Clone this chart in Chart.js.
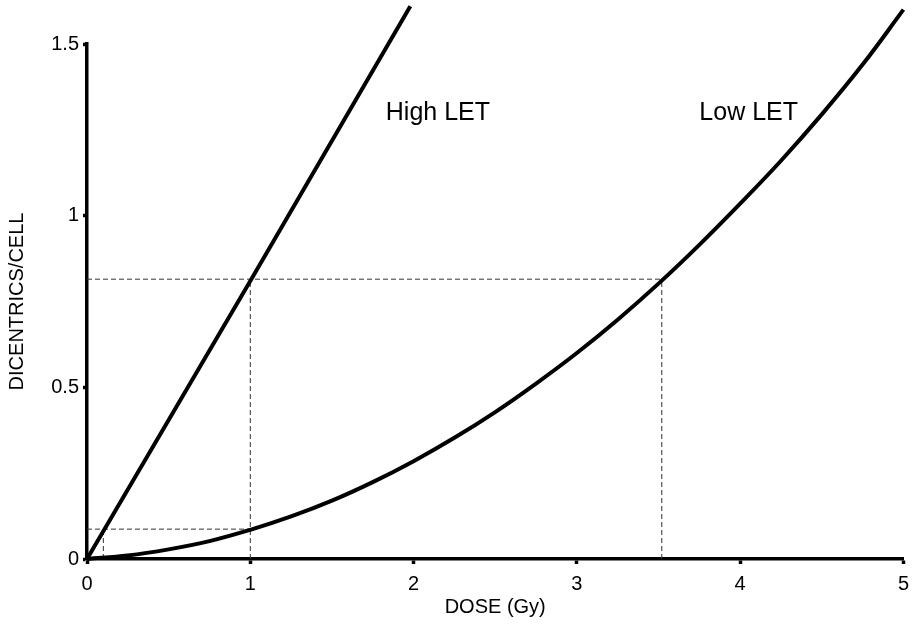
<!DOCTYPE html>
<html>
<head>
<meta charset="utf-8">
<script src="https://cdn.jsdelivr.net/npm/chart.js@4/dist/chart.umd.min.js"></script>
<style>
  html, body { margin: 0; padding: 0; background: #fff; }
  #wrap { width: 917px; height: 643px; }
</style>
</head>
<body>
<div id="wrap"><canvas id="chart"></canvas></div>
<script>
// values
const highDose = [0, 1, 1.98];
const highDic = [0, 0.81, 1.61];
const lowDose = [0, 0.25, 0.5, 0.75, 1, 1.25, 1.5, 1.75, 2, 2.25, 2.5, 2.75, 3, 3.25, 3.5, 3.75, 4, 4.25, 4.5, 4.75, 5];
const lowDic = [0, 0.01, 0.028, 0.052, 0.085, 0.124, 0.17, 0.224, 0.285, 0.353, 0.428, 0.511, 0.6, 0.697, 0.802, 0.915, 1.035, 1.16, 1.295, 1.44, 1.6];
const xTicks = [0, 1, 2, 3, 4, 5];
const yTicks = [0, 0.5, 1, 1.5];
// dashed guide lines: [x1, y1, x2, y2]
const guides = [
    [0, 0.815, 3.52, 0.815],
    [1, 0, 1, 0.815],
    [3.52, 0, 3.52, 0.815],
    [0, 0.087, 1, 0.087],
    [0.1, 0, 0.1, 0.087]
];
const notes = [
    { text: 'High LET', x: 1.83, y: 1.3 },
    { text: 'Low LET', x: 3.75, y: 1.3 }
];

const pts = (xs, ys) => xs.map((x, i) => ({ x: x, y: ys[i] }));

const guideSets = guides.map(g => ({
    data: [{ x: g[0], y: g[1] }, { x: g[2], y: g[3] }],
    borderColor: '#333',
    borderWidth: 1,
    borderDash: [5, 3],
    pointRadius: 0,
    showLine: true,
    clip: false
}));

const notePlugin = {
    id: 'notes',
    afterDatasetsDraw(chart) {
        const ctx = chart.ctx;
        const xs = chart.scales.x, ys = chart.scales.y;
        ctx.save();
        ctx.fillStyle = '#000';
        ctx.font = '25px "Liberation Sans", Arial, sans-serif';
        ctx.textBaseline = 'middle';
        notes.forEach(n => ctx.fillText(n.text, xs.getPixelForValue(n.x), ys.getPixelForValue(n.y)));
        ctx.restore();
    }
};

const tickFont = { family: '"Liberation Sans", Arial, sans-serif', size: 20 };
const titleFont = { family: '"Liberation Sans", Arial, sans-serif', size: 20 };

new Chart(document.getElementById('chart'), {
    type: 'scatter',
    data: {
        datasets: [
            { data: pts(highDose, highDic), borderColor: '#000', borderWidth: 4, pointRadius: 0, showLine: true, clip: false },
            { data: pts(lowDose, lowDic), borderColor: '#000', borderWidth: 4, pointRadius: 0, showLine: true, tension: 0.4, clip: false }
        ].concat(guideSets)
    },
    options: {
        responsive: true,
        maintainAspectRatio: false,
        animation: false,
        layout: { padding: { top: 44, right: 8, left: 0, bottom: 14 } },
        plugins: { legend: { display: false }, tooltip: { enabled: false } },
        scales: {
            x: {
                type: 'linear', min: 0, max: 5,
                afterBuildTicks: s => { s.ticks = xTicks.map(v => ({ value: v })); },
                afterFit: s => { s.height = 70; },
                border: { color: '#000', width: 3.5 },
                grid: { drawOnChartArea: false, drawTicks: true, tickLength: 5, tickWidth: 3.5, tickColor: '#000' },
                ticks: { color: '#000', font: tickFont, padding: 8, callback: v => String(v) },
                title: { display: true, text: 'DOSE (Gy)', color: '#000', font: titleFont, padding: { top: 2, bottom: 10 } }
            },
            y: {
                type: 'linear', min: 0, max: 1.5,
                afterBuildTicks: s => { s.ticks = yTicks.map(v => ({ value: v })); },
                afterFit: s => { s.width = 87; },
                border: { color: '#000', width: 3.5 },
                grid: { drawOnChartArea: false, drawTicks: true, tickLength: 4, tickWidth: 3.5, tickColor: '#000' },
                ticks: { color: '#000', font: tickFont, padding: 4, callback: v => String(v) },
                title: { display: true, text: 'DICENTRICS/CELL', color: '#000', font: titleFont, padding: { top: 5, bottom: 4 } }
            }
        }
    },
    plugins: [notePlugin]
});
</script>
</body>
</html>
